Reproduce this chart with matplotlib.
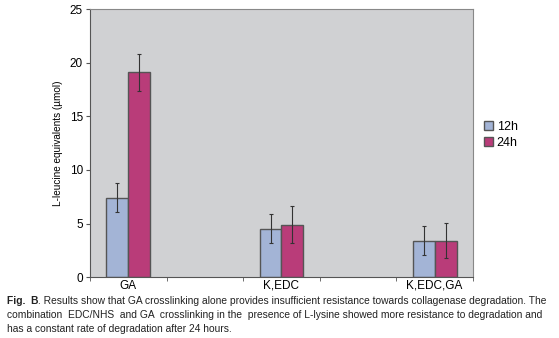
import matplotlib.pyplot as plt
import numpy as np

plt.rcParams['font.family'] = ['Liberation Sans', 'DejaVu Sans']

groups = ['GA', '', 'K,EDC', '', 'K,EDC,GA']
vals_12h = [7.4, None, 4.5, None, 3.4]
vals_24h = [19.1, None, 4.9, None, 3.4]
err_12h = [1.35, None, 1.35, None, 1.35]
err_24h = [1.7, None, 1.7, None, 1.65]

pos = [i for i, v in enumerate(vals_12h) if v is not None]
v12 = [vals_12h[i] for i in pos]
v24 = [vals_24h[i] for i in pos]
e12 = [err_12h[i] for i in pos]
e24 = [err_24h[i] for i in pos]

fig = plt.figure(figsize=(5.59, 3.38), dpi=100)
ax = fig.add_axes([0.161, 0.180, 0.685, 0.793])
ax.set_facecolor('#d0d1d3')

w = 0.286
x = np.array(pos)
ax.bar(x - w / 2, v12, w, color='#a3b4d6', edgecolor='#555555', linewidth=1, label='12h', zorder=2)
ax.bar(x + w / 2, v24, w, color='#b93c79', edgecolor='#555555', linewidth=1, label='24h', zorder=2)
ax.errorbar(x - w / 2, v12, yerr=e12, fmt='none', ecolor='#333333', elinewidth=0.8, capsize=1.5, capthick=0.8, zorder=3)
ax.errorbar(x + w / 2, v24, yerr=e24, fmt='none', ecolor='#333333', elinewidth=0.8, capsize=1.5, capthick=0.8, zorder=3)

ax.set_xlim(-0.5, len(groups) - 0.5)
ax.set_ylim(0, 25)
ax.set_yticks([0, 5, 10, 15, 20, 25])
ax.set_xticks(pos)
ax.set_xticklabels([groups[i] for i in pos], fontsize=8.5)
ax.set_xticks(np.arange(-0.5, len(groups), 1.0), minor=True)
ax.tick_params(axis='x', which='major', length=0, pad=2)
ax.tick_params(axis='x', which='minor', length=3, color='#555555')
ax.tick_params(axis='y', labelsize=8.5, length=3, color='#555555', pad=2)
ax.set_ylabel('L-leucine equivalents (µmol)', fontsize=7.2, labelpad=5)
for s in ax.spines.values():
    s.set_color('#888888')
ax.spines['left'].set_color('#555555')
ax.spines['bottom'].set_color('#555555')

ax.legend(loc='center left', bbox_to_anchor=(1.0, 0.53), frameon=False, fontsize=9,
          handlelength=0.7, handleheight=0.7, handletextpad=0.3, labelspacing=0.3)

# caption
cap_size = 7.4
t = fig.text(0.012, 0.101, 'Fig.  B', fontsize=cap_size, fontweight='bold', color='#222222')
fig.canvas.draw()
bb = t.get_window_extent(fig.canvas.get_renderer())
fig.text(bb.x1 / fig.bbox.width, 0.101,
         '. Results show that GA crosslinking alone provides insufficient resistance towards collagenase degradation. The',
         fontsize=cap_size, color='#222222')
fig.text(0.012, 0.059, 'combination  EDC/NHS  and GA  crosslinking in the  presence of L-lysine showed more resistance to degradation and',
         fontsize=cap_size, color='#222222')
fig.text(0.012, 0.019, 'has a constant rate of degradation after 24 hours.',
         fontsize=cap_size, color='#222222')

fig.savefig('out.png', dpi=100)
